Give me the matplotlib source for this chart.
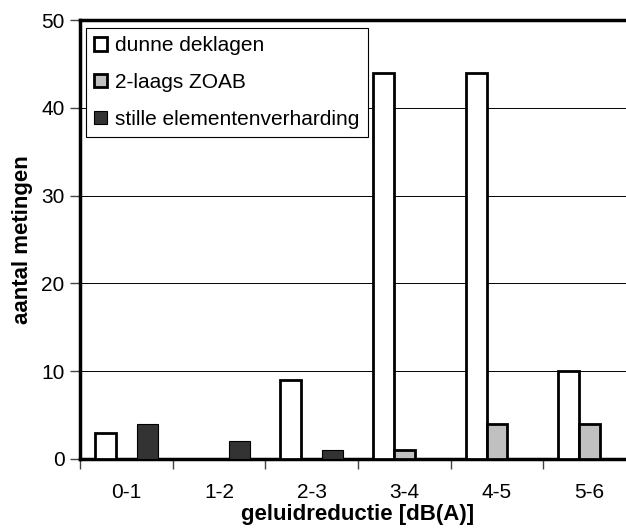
import numpy as np
import matplotlib.pyplot as plt

plt.rcParams['font.family'] = ['Liberation Sans', 'DejaVu Sans']

categories = ["0-1", "1-2", "2-3", "3-4", "4-5", "5-6"]
dunne = [3, 0, 9, 44, 44, 10]
zoab = [0, 0, 0, 1, 4, 4]
stille = [4, 2, 1, 0, 0, 0]

fig = plt.figure(figsize=(6.26, 5.30), dpi=100)
ax = fig.add_axes([80/626, 71/530, 556/626, 439/530])

x = np.arange(len(categories))
w = 0.225

ax.bar(x - w, dunne, w, color='white', edgecolor='black', linewidth=2, label='dunne deklagen', zorder=3)
ax.bar(x, zoab, w, color='#c0c0c0', edgecolor='black', linewidth=2, label='2-laags ZOAB', zorder=3)
ax.bar(x + w, stille, w, color='#333333', edgecolor='black', linewidth=0.8, label='stille elementenverharding', zorder=3)

ax.set_xlim(-0.5, 5.5)
ax.set_ylim(0, 50)
ax.set_yticks([0, 10, 20, 30, 40, 50])
ax.yaxis.grid(True, color='black', linewidth=0.7, zorder=0)

# boundaries get the tick marks, centres get the labels
ax.set_xticks(np.arange(-0.5, 6, 1))
ax.set_xticklabels([])
ax.set_xticks(x, minor=True)
ax.set_xticklabels(categories, minor=True)
ax.tick_params(axis='x', which='minor', length=0, pad=17, labelsize=15)
ax.tick_params(axis='x', which='major', length=7, width=1, color='#444444')
ax.tick_params(axis='y', length=7, width=1, pad=4, labelsize=15, color='#444444')

for s in ['left', 'bottom', 'top']:
    ax.spines[s].set_linewidth(2.5)
ax.spines['right'].set_visible(False)

ax.set_xlabel("geluidreductie [dB(A)]", fontsize=16, fontweight='bold', labelpad=2)
ax.set_ylabel("aantal metingen", fontsize=16, fontweight='bold', labelpad=6)

leg = ax.legend(loc='upper left', bbox_to_anchor=(0.011, 0.982), borderaxespad=0,
                fontsize=15, fancybox=False, edgecolor='black', framealpha=1,
                handlelength=0.6, handleheight=0.6, handletextpad=0.4,
                labelspacing=0.85, borderpad=0.4)
leg.get_frame().set_linewidth(0.8)
leg.set_zorder(5)

fig.savefig("out.png", dpi=100)
